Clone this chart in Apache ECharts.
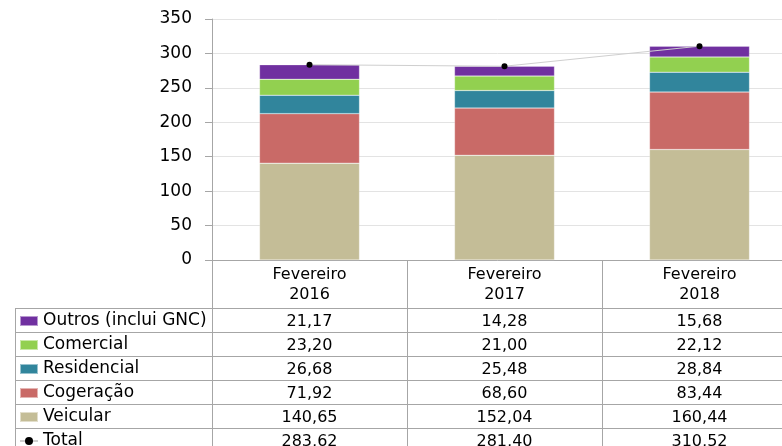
<!DOCTYPE html>
<html>
<head>
<meta charset="utf-8">
<script src="https://cdn.jsdelivr.net/npm/echarts@6/dist/echarts.min.js"></script>
<style>
  html, body { margin: 0; padding: 0; background: #fff; }
  #chart { width: 782px; height: 446px; }
</style>
</head>
<body>
<div id="chart"></div>
<script>
// data
const categories = ['Fevereiro\n2016', 'Fevereiro\n2017', 'Fevereiro\n2018']
const outros = [21.17, 14.28, 15.68]
const comercial = [23.20, 21.00, 22.12]
const residencial = [26.68, 25.48, 28.84]
const cogeracao = [71.92, 68.60, 83.44]
const veicular = [140.65, 152.04, 160.44]
const total = [283.62, 281.40, 310.52]
const yTicks = [0, 50, 100, 150, 200, 250, 300, 350]

const font = 'DejaVu Sans'
const lineColor = '#a6a6a6'
const gridLeft = 212
const gridTop = 19
const axisY = 260
const rowTop = 308
const rowH = 24

const fmt = (v) => v.toFixed(2).replace('.', ',')

// table rows, top to bottom
const rows = [
  { name: 'Outros (inclui GNC)', data: outros, color: '#7030a0' },
  { name: 'Comercial', data: comercial, color: '#92d050' },
  { name: 'Residencial', data: residencial, color: '#31859c' },
  { name: 'Cogeração', data: cogeracao, color: '#c96a67' },
  { name: 'Veicular', data: veicular, color: '#c4bd97' },
  { name: 'Total', data: total }
]

const chart = echarts.init(document.getElementById('chart'))

const xAxes = [
  {
    type: 'category',
    data: categories,
    position: 'bottom',
    axisLine: { lineStyle: { color: lineColor, width: 1 } },
    axisTick: { show: true, interval: 0, length: 446 - axisY, lineStyle: { color: lineColor } },
    axisLabel: {
      interval: 0,
      margin: 5,
      fontFamily: font,
      fontSize: 16,
      lineHeight: 20,
      color: '#000'
    }
  }
]
rows.forEach((r, i) => {
  xAxes.push({
    type: 'category',
    data: r.data.map(fmt),
    position: 'bottom',
    offset: rowTop + i * rowH - axisY,
    axisLine: { show: false },
    axisTick: { show: false },
    axisLabel: {
      interval: 0,
      margin: 2,
      fontFamily: font,
      fontSize: 16,
      lineHeight: rowH,
      color: '#000'
    }
  })
})

// horizontal rules of the table
const rules = []
for (let i = 0; i < 7; i++) {
  const y = rowTop + i * rowH + 0.5
  rules.push({
    type: 'line',
    shape: { x1: 15, y1: y, x2: 800, y2: y },
    style: { stroke: lineColor, lineWidth: 1 }
  })
}
rules.push({
  type: 'line',
  shape: { x1: 15.5, y1: rowTop, x2: 15.5, y2: 446 },
  style: { stroke: lineColor, lineWidth: 1 }
})

const barRows = rows.slice(0, 5).reverse()
const series = barRows.map((r) => ({
  name: r.name,
  type: 'bar',
  stack: 'total',
  barWidth: 100,
  itemStyle: { color: r.color, borderColor: 'rgba(255,255,255,0.5)', borderWidth: 0.5 },
  data: r.data
}))
series.push({
  name: 'Total',
  type: 'line',
  data: total,
  symbol: 'circle',
  symbolSize: 6,
  z: 5,
  lineStyle: { color: '#cfcfcf', width: 1 },
  itemStyle: { color: '#000' }
})

chart.setOption({
  animation: false,
  backgroundColor: '#fff',
  grid: {
    left: gridLeft,
    top: gridTop,
    width: 585,
    height: axisY - gridTop,
    outerBoundsMode: 'none'
  },
  legend: {
    orient: 'vertical',
    left: 19,
    top: rowTop + 1,
    height: 200,
    padding: 0,
    itemWidth: 18,
    itemHeight: 10,
    itemGap: 0,
    selectedMode: false,
    textStyle: { fontFamily: font, fontSize: 17, lineHeight: rowH, color: '#000' },
    data: rows.map((r) => (r.name === 'Total' ? { name: r.name } : { name: r.name, icon: 'rect' }))
  },
  xAxis: xAxes,
  yAxis: {
    type: 'value',
    min: yTicks[0],
    max: yTicks[yTicks.length - 1],
    interval: 50,
    axisLine: { show: true, lineStyle: { color: lineColor } },
    axisTick: { show: true, length: 7, lineStyle: { color: lineColor } },
    splitLine: { lineStyle: { color: '#e3e3e3' } },
    axisLabel: { margin: 20, fontFamily: font, fontSize: 17, color: '#000' }
  },
  graphic: rules,
  series: series
})
</script>
</body>
</html>
